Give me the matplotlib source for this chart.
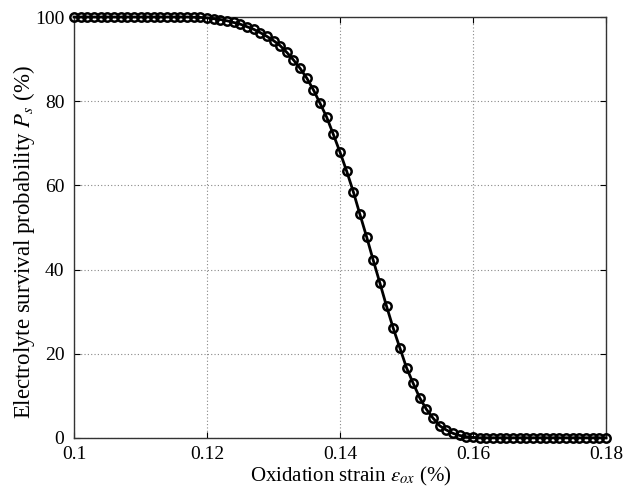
import matplotlib
matplotlib.use("Agg")
import matplotlib.pyplot as plt

strain = [round(0.100 + 0.001 * i, 3) for i in range(81)]
survival = (
    [100.0] * 18 +  # 0.100 - 0.117
    [99.95, 99.9, 99.8, 99.6, 99.4, 99.1, 98.7, 98.3, 97.7, 97.1, 96.3, 95.4,  # 0.118 - 0.129
     94.4, 93.2, 91.6, 89.8, 87.8, 85.5, 82.7, 79.5, 76.2, 72.1,              # 0.130 - 0.139
     67.9, 63.4, 58.5, 53.1, 47.8, 42.2, 36.8, 31.3, 26.1, 21.4,              # 0.140 - 0.149
     16.7, 13.0, 9.5, 6.8, 4.7, 2.9, 1.9, 1.1, 0.6, 0.3, 0.15] +              # 0.150 - 0.160
    [0.05] * 20                                                                # 0.161 - 0.180
)

xticks = [0.1, 0.12, 0.14, 0.16, 0.18]
xticklabels = ["0.1", "0.12", "0.14", "0.16", "0.18"]
yticks = [0, 20, 40, 60, 80, 100]

plt.rcParams['font.family'] = ['Liberation Serif', 'DejaVu Serif']
plt.rcParams['mathtext.fontset'] = 'stix'

fig = plt.figure(figsize=(6.36, 4.88), dpi=100)
ax = fig.add_axes([74/636, 1 - 438/488, (606 - 74)/636, (438 - 17)/488])

ax.plot(strain, survival, color='black', lw=2.0, marker='o', markersize=6,
        markerfacecolor='none', markeredgecolor='black', markeredgewidth=1.8,
        clip_on=False, zorder=3)

ax.set_xlim(0.1, 0.18)
ax.set_ylim(0, 100)
ax.set_xticks(xticks)
ax.set_xticklabels(xticklabels)
ax.set_yticks(yticks)
ax.grid(True, linestyle=(0, (1, 2)), color='#888888', linewidth=0.8)
ax.tick_params(direction='in', top=True, right=True, labelsize=14, length=4)
ax.tick_params(axis='x', pad=6)
ax.tick_params(axis='y', pad=7)
for s in ax.spines.values():
    s.set_linewidth(1.0)
    s.set_color('#333333')

ax.set_xlabel(r"Oxidation strain $\varepsilon_{ox}$ (%)", fontsize=15)
ax.set_ylabel(r"Electrolyte survival probability $P_s$ (%)", fontsize=16.5)
ax.xaxis.set_label_coords(0.52, -0.064)
ax.yaxis.set_label_coords(-0.07, 0.465)

fig.savefig("out.png", dpi=100)
